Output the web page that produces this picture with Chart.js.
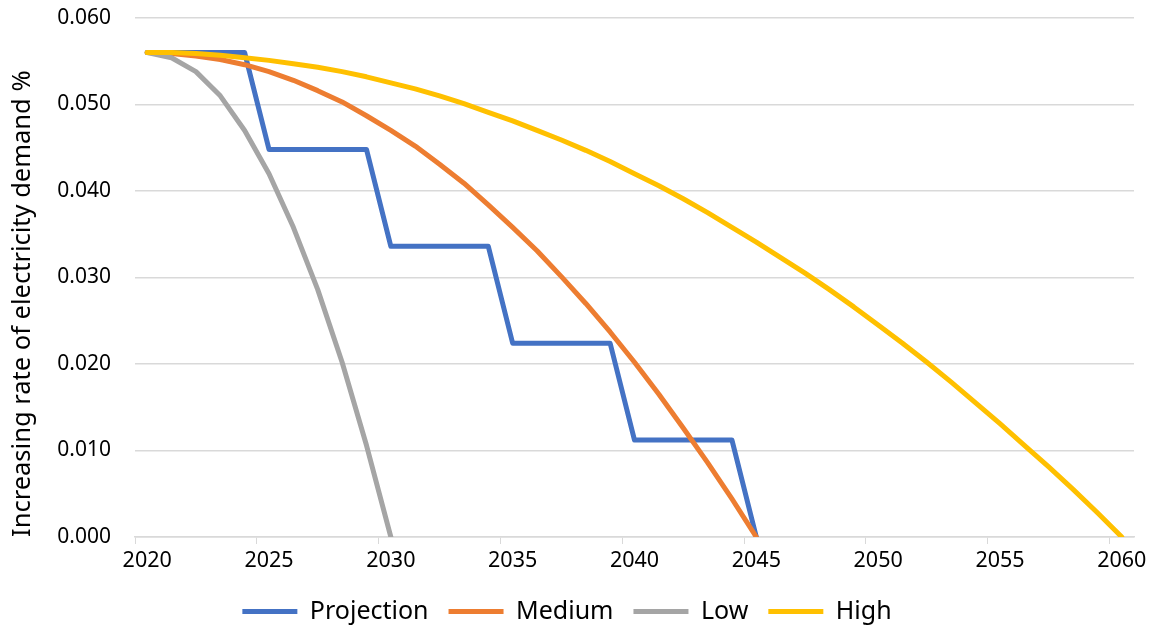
<!DOCTYPE html>
<html>
<head>
<meta charset="utf-8">
<script src="https://cdn.jsdelivr.net/npm/chart.js@4.4.1/dist/chart.umd.min.js"></script>
<style>
  html, body { margin: 0; padding: 0; background: #fff; }
  #wrap { width: 1153px; height: 628px; }
</style>
</head>
<body>
<div id="wrap"><canvas id="demand-canvas"></canvas></div>
<script>
var years = [];
for (var y = 2020; y <= 2060; y++) years.push(String(y));

var projectionData = [0.056, 0.056, 0.056, 0.056, 0.056,
    0.0448, 0.0448, 0.0448, 0.0448, 0.0448,
    0.0336, 0.0336, 0.0336, 0.0336, 0.0336,
    0.0224, 0.0224, 0.0224, 0.0224, 0.0224,
    0.0112, 0.0112, 0.0112, 0.0112, 0.0112,
    0];

var mediumData = [0.0560, 0.0559, 0.0556, 0.0552, 0.0546, 0.0538, 0.0528, 0.0516, 0.0503, 0.0487,
    0.0470, 0.0452, 0.0431, 0.0409, 0.0384, 0.0358, 0.0331, 0.0301, 0.0270, 0.0237,
    0.0202, 0.0165, 0.0126, 0.0086, 0.0044, 0];

var lowData = [0.0560, 0.0554, 0.0538, 0.0510, 0.0470, 0.0420, 0.0358, 0.0286, 0.0202, 0.0106, 0];

var highData = [0.0560, 0.0560, 0.0559, 0.0557, 0.0554, 0.0551, 0.0547, 0.0543, 0.0538, 0.0532,
    0.0525, 0.0518, 0.0510, 0.0501, 0.0491, 0.0481, 0.0470, 0.0459, 0.0447, 0.0434,
    0.0420, 0.0406, 0.0391, 0.0375, 0.0358, 0.0341, 0.0323, 0.0305, 0.0286, 0.0266,
    0.0245, 0.0224, 0.0202, 0.0179, 0.0155, 0.0131, 0.0106, 0.0081, 0.0055, 0.0028,
    0];

var yTicks = [0, 0.01, 0.02, 0.03, 0.04, 0.05, 0.06];

function series(label, data, color, order) {
    return {
        label: label,
        data: data,
        borderColor: color,
        backgroundColor: color,
        borderWidth: 5,
        tension: 0,
        pointRadius: 0,
        borderCapStyle: 'round',
        borderJoinStyle: 'round',
        fill: false,
        order: order
    };
}

var gridGrey = '#D9D9D9';
var fontFamily = "'Noto Sans', sans-serif";

new Chart(document.getElementById('demand-canvas').getContext('2d'), {
    type: 'line',
    data: {
        labels: years,
        datasets: [
            series('Projection', projectionData, '#4472C4', 3),
            series('Medium', mediumData, '#ED7D31', 2),
            series('Low', lowData, '#A5A5A5', 1),
            series('High', highData, '#FFC000', 0)
        ]
    },
    options: {
        responsive: true,
        maintainAspectRatio: false,
        animation: false,
        layout: { padding: { top: 18, right: 19, bottom: -6, left: 0 } },
        plugins: {
            tooltip: { enabled: false },
            legend: {
                display: true,
                position: 'bottom',
                labels: {
                    color: '#000',
                    boxWidth: 55,
                    boxHeight: 5,
                    padding: 20,
                    useBorderRadius: true,
                    borderRadius: 2.5,
                    font: { family: fontFamily, size: 25 },
                    sort: function (a, b) { return a.datasetIndex - b.datasetIndex; },
                    generateLabels: function (chart) {
                        return chart.data.datasets.map(function (ds, i) {
                            return {
                                text: ds.label,
                                fillStyle: ds.borderColor,
                                strokeStyle: ds.borderColor,
                                lineWidth: 0,
                                datasetIndex: i,
                                fontColor: '#000'
                            };
                        });
                    }
                }
            }
        },
        scales: {
            x: {
                type: 'category',
                offset: true,
                afterFit: function (scale) { scale.height = 42; },
                grid: {
                    offset: true,
                    drawOnChartArea: false,
                    tickLength: 7,
                    tickColor: function (ctx) {
                        return (ctx.index % 5 === 0 && ctx.index < years.length) ? gridGrey : 'rgba(0,0,0,0)';
                    }
                },
                border: { color: gridGrey, width: 1.5 },
                ticks: {
                    autoSkip: false,
                    maxRotation: 0,
                    color: '#000',
                    padding: 4,
                    font: { family: fontFamily, size: 21.5 },
                    callback: function (val, idx) {
                        var yr = Number(years[idx]);
                        return yr % 5 === 0 ? years[idx] : '';
                    }
                }
            },
            y: {
                min: 0,
                max: 0.06,
                afterFit: function (scale) {
                    scale.width = 135;
                    scale.paddingTop = 0;
                    scale.paddingBottom = 0;
                },
                afterBuildTicks: function (scale) {
                    scale.ticks = yTicks.map(function (v) { return { value: v }; });
                },
                grid: {
                    color: gridGrey,
                    lineWidth: 1.5,
                    drawTicks: false
                },
                border: { display: false },
                title: {
                    display: true,
                    align: 'start',
                    text: 'Increasing rate of electricity demand %',
                    color: '#000',
                    font: { family: fontFamily, size: 25.5 },
                    padding: { top: 7, bottom: 4 }
                },
                ticks: {
                    color: '#000',
                    padding: 24,
                    font: { family: fontFamily, size: 21 },
                    callback: function (v) { return v.toFixed(3); }
                }
            }
        }
    }
});
</script>
</body>
</html>
